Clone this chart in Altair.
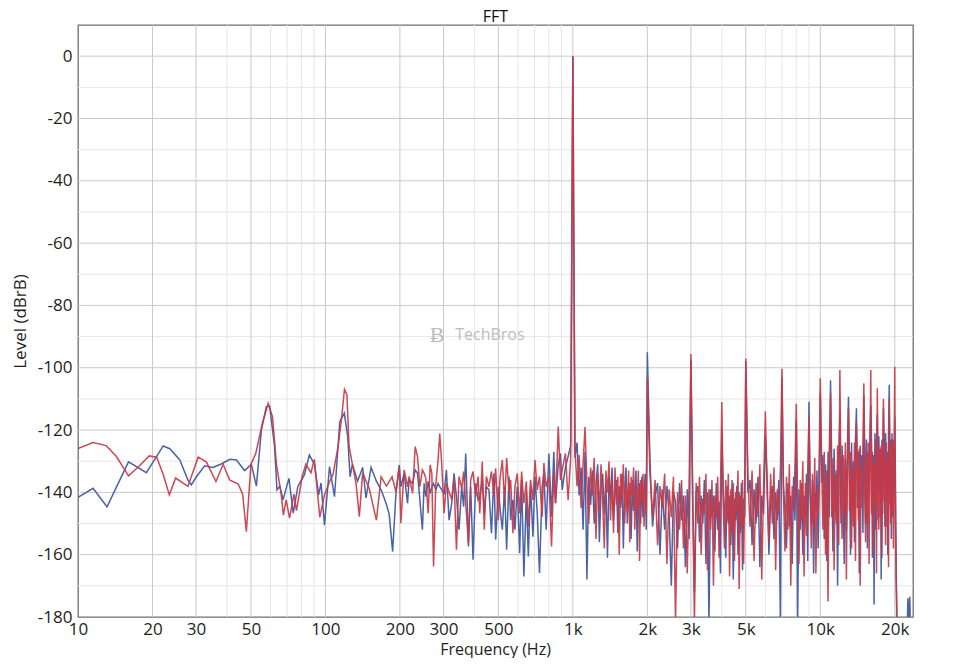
import altair as alt
import pandas as pd

# ---------------- data ----------------
# low-frequency part, blue channel
blue_lo_freq = [10, 11.5, 13.1, 16.0, 18.9, 22.1, 23.5, 25.8, 27.8, 28.7,
                30.1, 32.5, 35.1, 37.9, 41.1, 43.7, 47.1, 50.2, 52.6, 55.1,
                57.7, 59.5, 62.3, 63.7, 65.4, 67.4, 71.2, 74.1, 77.4, 82.2,
                86.1, 90.3, 93.9, 96.0, 99.1, 103.9, 108.8, 114.3, 119.2, 123.0,
                125.8, 128.5, 134.9, 141.4, 145.9, 152.9, 160.7, 168.5, 176.5, 181,
                186.9]
blue_lo_level = [-141.6, -138.7, -144.6, -130.2, -133.7, -125.1, -126, -129.6, -136, -137.6,
                 -135, -131.5, -132, -130.9, -129.4, -129.6, -133, -131, -138, -120,
                 -112.5, -112.3, -125.3, -139.2, -138, -142.4, -135.5, -146.7, -138, -134.4,
                 -128, -131, -140.8, -137, -150.5, -131.7, -141.4, -117.3, -114.6, -122,
                 -135, -131, -136.4, -132, -141.8, -132, -136.4, -139.5, -143.9, -147,
                 -159]

# low-frequency part, red channel
red_lo_freq = [10, 11.5, 13, 14.3, 16, 17.6, 19.4, 20.8, 22.1, 23.4,
               24.8, 27.8, 30.6, 33, 36.1, 38.6, 41, 44.4, 46.3, 47.9,
               50, 52.3, 55.6, 58.7, 61.1, 63.4, 66.3, 67.6, 69.4, 71.6,
               74.6, 76.4, 80.5, 83.3, 87.4, 90.2, 94.9, 99.1, 104, 107.3,
               112.6, 116.4, 119.4, 122.1, 124.6, 128, 133, 137.1, 141.4, 150.6,
               160.7, 168, 176.5, 186]
red_lo_level = [-125.9, -124, -125, -128.5, -134.7, -131.7, -128.3, -128.7, -134.3, -140.8,
                -135.4, -138.1, -128.7, -130.2, -136.5, -131, -136, -137.3, -140.6, -152.6,
                -131, -127.5, -117.9, -111.4, -115.7, -131, -140.8, -147.3, -142.4, -148.3,
                -140.6, -145.9, -135, -131, -133.7, -129.4, -148, -140.8, -136.5, -134.3,
                -125.2, -115.7, -106.9, -108.6, -125.2, -130.2, -137.2, -147.8, -133.7, -139,
                -148.9, -135, -138, -135]

# 200 Hz - 1 kHz
mid_freq = [192.8, 198.8, 201.8, 208, 214.7, 218, 225, 230.6, 235.6, 240.8,
            246.6, 250.6, 254.6, 260.2, 265, 269.2, 273.5, 279.3, 285.3, 289.8,
            295, 301.7, 308.3, 316, 324, 331, 338.5, 346.7, 355.5, 362,
            369, 378.4, 386.5, 395, 404.6, 414, 420.5, 430.5, 438.5, 447,
            458, 468.8, 480, 487.5, 500, 507, 518.8, 530, 540, 552,
            560.5, 572.8, 583.4, 596, 609.5, 620.8, 634, 648.6, 660.7, 674.5,
            690, 703, 718, 733, 751.6, 763.8, 780, 800, 820, 837.5,
            851, 873, 891.3, 905.7, 933, 957, 980]
red_mid_level = [-139.8, -131.7, -149.9, -132.8, -138.2, -134.9, -140.3, -125.3, -128.5, -138.2,
                 -132.8, -133.9, -135.5, -146.7, -131.2, -133.9, -163.8, -137.6, -129.6, -121.1,
                 -130.6, -146.7, -137.1, -139.8, -142.4, -135.5, -158.4, -134.9, -138.7, -133.3,
                 -143.5, -156.3, -136, -133.3, -141.4, -134.9, -146.7, -130.1, -152, -134.9,
                 -138.2, -133.3, -141.4, -132.3, -148.9, -136, -129.6, -143.5, -129, -139.8,
                 -136, -153.1, -138.2, -133.9, -146.7, -133.3, -143.5, -136.5, -151, -136,
                 -142.4, -129.6, -139.2, -134.9, -147.8, -130.6, -138.2, -134.9, -157.4, -133.3,
                 -143.5, -118.9, -136, -132.8, -127.5, -142.4, -129]
blue_mid_level = [-140.3, -131.2, -138.2, -133.9, -143.5, -136, -137.1, -132.8, -133.9, -142.4,
                  -152, -137.1, -141.4, -136.5, -140.3, -138.2, -137.1, -139.2, -137.1, -138.2,
                  -139.2, -140.3, -132.8, -148.9, -143.5, -133.9, -141.4, -152, -138.2, -144.6,
                  -127.5, -157.4, -138.2, -161.6, -137.1, -142.4, -141.4, -136, -146.7, -138.2,
                  -139.2, -153.1, -133.9, -155.2, -138.2, -144.6, -152, -138.2, -158.4, -134.9,
                  -148.9, -142.4, -152, -138.2, -159.5, -136, -167, -140.3, -160.6, -138.2,
                  -154.2, -134.9, -146.7, -165.9, -138.2, -133.9, -152, -127.5, -147.8, -127,
                  -143.5, -131, -127.5, -139.2, -132, -128.5, -125]

# 1 kHz - 20.5 kHz
hi_freq = [1000, 1020, 1040, 1060, 1080, 1100, 1120, 1140, 1160, 1180,
           1200, 1220, 1240, 1260, 1280, 1300, 1320, 1340, 1360, 1380,
           1400, 1420, 1440, 1460, 1480, 1500, 1520, 1540, 1560, 1580,
           1600, 1620, 1640, 1660, 1680, 1700, 1720, 1740, 1760, 1780,
           1800, 1820, 1840, 1860, 1880, 1900, 1920, 1940, 1960, 1980,
           2000, 2050, 2100, 2150, 2200, 2250, 2300, 2350, 2400, 2450,
           2500, 2550, 2600, 2650, 2700, 2750, 2800, 2850, 2900, 2950,
           3000, 3050, 3100, 3150, 3200, 3250, 3300, 3350, 3400, 3450,
           3500, 3550, 3600, 3650, 3700, 3750, 3800, 3850, 3900, 3950,
           4000, 4050, 4100, 4150, 4200, 4250, 4300, 4350, 4400, 4450,
           4500, 4550, 4600, 4650, 4700, 4750, 4800, 4850, 4900, 4950,
           5000, 5100, 5200, 5300, 5400, 5500, 5600, 5700, 5800, 5900,
           6000, 6100, 6200, 6300, 6400, 6500, 6600, 6700, 6800, 6900,
           7000, 7100, 7200, 7300, 7400, 7500, 7600, 7700, 7800, 7900,
           8000, 8100, 8200, 8300, 8400, 8500, 8600, 8700, 8800, 8900,
           9000, 9100, 9200, 9300, 9400, 9500, 9600, 9700, 9800, 9900,
           10000, 10125, 10250, 10375, 10500, 10625, 10750, 10875,
           11000, 11125, 11250, 11375, 11500, 11625, 11750, 11875,
           12000, 12125, 12250, 12375, 12500, 12625, 12750, 12875,
           13000, 13125, 13250, 13375, 13500, 13625, 13750, 13875,
           14000, 14125, 14250, 14375, 14500, 14625, 14750, 14875,
           15000, 15125, 15250, 15375, 15500, 15625, 15750, 15875,
           16000, 16125, 16250, 16375, 16500, 16625, 16750, 16875,
           17000, 17125, 17250, 17375, 17500, 17625, 17750, 17875,
           18000, 18125, 18250, 18375, 18500, 18625, 18750, 18875,
           19000, 19125, 19250, 19375, 19500, 19625, 19750, 19875,
           20000, 20125, 20250, 20375, 20500]
red_hi_level = [0, -126, -138, -128, -145, -131, -119, -137, -150, -132,
                -141, -129, -155, -134, -146, -131, -143, -158, -133, -140,
                -130, -149, -136, -153, -132, -144, -135, -160, -134, -142,
                -131, -150, -137, -146, -133, -156, -135, -141, -132, -152,
                -138, -145, -133, -162, -136, -143, -134, -151, -137, -147,
                -103, -134, -148, -136, -157, -138, -145, -134, -163, -139,
                -148, -135, -182, -140, -152, -136, -158, -141, -166, -138,
                -95.6, -140, -182, -137, -150, -135, -160, -142, -147, -134,
                -165, -139, -152, -136, -170, -141, -148, -135, -161, -140,
                -111, -143, -158, -136, -149, -134, -167, -139, -153, -137,
                -162, -140, -146, -133, -171, -141, -150, -136, -163, -139,
                -97, -135, -151, -133, -162, -137, -148, -131, -168, -138,
                -114, -140, -156, -134, -150, -132, -165, -139, -147, -133,
                -100.3, -141, -159, -135, -152, -131, -170, -138, -146, -132,
                -111.6, -143, -163, -136, -149, -130, -167, -137, -154, -133,
                -115.7, -140, -158, -134, -151, -129, -166, -139, -147, -131,
                -103.4, -130, -152, -127, -160, -133, -175, -126,
                -108, -148, -129, -165, -134, -150, -125, -157,
                -100.7, -138, -155, -128, -147, -124, -168, -131,
                -113, -146, -127, -158, -133, -151, -124, -162,
                -118, -129, -149, -126, -170, -132, -145, -125,
                -105, -141, -156, -128, -150, -124, -163, -130,
                -100.7, -147, -127, -159, -131, -144, -123, -166,
                -106.6, -135, -152, -126, -148, -125, -161, -129,
                -110, -143, -128, -157, -124, -151, -130, -164,
                -110, -127, -150, -125, -146, -123, -158, -131,
                -99.7, -150, -168, -176, -190]
blue_hi_level = [0, -129, -124, -141, -132, -152, -127, -168, -135, -144,
                 -133, -150, -138, -131, -156, -139, -134, -147, -137, -161,
                 -135, -142, -132, -149, -140, -136, -153, -138, -145, -134,
                 -158, -139, -132, -150, -141, -137, -155, -136, -146, -139,
                 -133, -159, -142, -137, -150, -135, -148, -140, -134, -152,
                 -95, -130, -151, -141, -137, -160, -139, -152, -138, -147,
                 -170, -140, -143, -158, -137, -149, -141, -164, -139, -155,
                 -97.5, -142, -172, -140, -138, -156, -141, -150, -136, -163,
                 -140, -182, -139, -148, -141, -159, -137, -152, -143, -166,
                 -120, -139, -145, -161, -138, -150, -141, -157, -136, -168,
                 -142, -149, -138, -160, -140, -153, -137, -165, -142, -148,
                 -98, -140, -136, -157, -139, -150, -135, -164, -141, -147,
                 -121.6, -136, -160, -142, -138, -155, -140, -149, -136, -182,
                 -103, -138, -146, -158, -137, -151, -141, -163, -135, -149,
                 -117, -182, -139, -152, -137, -160, -141, -148, -134, -162,
                 -110.9, -139, -150, -136, -166, -140, -146, -133, -158, -138,
                 -108, -137, -128, -155, -131, -162, -127, -148,
                 -104, -131, -159, -126, -146, -133, -170, -128,
                 -115, -150, -125, -141, -163, -129, -152, -126,
                 -109.3, -133, -160, -124, -147, -130, -156, -123,
                 -113, -145, -127, -166, -125, -142, -128, -153,
                 -108.8, -126, -150, -123, -158, -127, -140, -122,
                 -112, -125, -161, -128, -176, -121, -152, -124,
                 -115, -149, -122, -140, -126, -168, -123, -147,
                 -113, -124, -151, -121, -143, -127, -160, -122,
                 -105.5, -144, -123, -155, -121, -148, -125, -139,
                 -115.7, -135, -160, -182, -190]

# blue blip above 20 kHz
blue_tail_freq = [22400, 22600, 22800, 23000, 23200]
blue_tail_level = [-190, -174, -183, -173.5, -190]

# axes / grid
tick_x = [10, 20, 30, 50, 100, 200, 300, 500, 1000, 2000, 3000, 5000, 10000, 20000]
tick_y = [0, -20, -40, -60, -80, -100, -120, -140, -160, -180]
grid_major_x = [20, 30, 50, 100, 200, 300, 500, 1000, 2000, 3000, 5000, 10000, 20000]
grid_minor_x = [40, 60, 70, 80, 90, 400, 600, 700, 800, 900,
                4000, 6000, 7000, 8000, 9000]
grid_major_y = [0, -20, -40, -60, -80, -100, -120, -140, -160]
grid_minor_y = [-10, -30, -50, -70, -90, -110, -130, -150, -170]

watermark_text = ["Ƀ", "TechBros"]
watermark_freq = [283, 462]
watermark_level = [-89.5, -89.5]
watermark_size = [22, 16]

# ---------------- build tables ----------------
def table(freqs, levels):
    return pd.DataFrame({"freq": list(freqs), "level": list(levels)})

blue_df = pd.concat([table(blue_lo_freq, blue_lo_level),
                     table(mid_freq, blue_mid_level),
                     table(hi_freq, blue_hi_level),
                     table(blue_tail_freq, blue_tail_level)], ignore_index=True)
red_df = pd.concat([table(red_lo_freq, red_lo_level),
                    table(mid_freq, red_mid_level),
                    table(hi_freq, red_hi_level)], ignore_index=True)

FONT = "Open Sans"
x_scale = alt.Scale(type="log", domain=[10, 23700], nice=False)
y_scale = alt.Scale(domain=[-180, 10], nice=False)

x_axis = alt.Axis(values=tick_x,
                  labelExpr="datum.value >= 1000 ? (datum.value / 1000) + 'k' : '' + datum.value",
                  grid=False, ticks=False, domain=False, labelFlush=False, labelOverlap=False,
                  labelFont=FONT, labelFontSize=17, labelColor="#1e1e1e", labelPadding=4,
                  title="Frequency (Hz)", titleFont=FONT, titleFontSize=16, titleFontWeight="normal",
                  titleColor="#1e1e1e", titleX=417, titleY=37, titleBaseline="alphabetic",
                  titleAlign="center")
y_axis = alt.Axis(values=tick_y, labelExpr="'' + datum.value",
                  grid=False, ticks=False, domain=False,
                  labelFont=FONT, labelFontSize=17, labelColor="#1e1e1e", labelPadding=6,
                  labelFlush=False, labelOverlap=False,
                  title="Level (dBrB)", titleFont=FONT, titleFontSize=17, titleFontWeight="normal",
                  titleColor="#1e1e1e", titleX=-58, titleY=296, titleAngle=270,
                  titleBaseline="middle", titleAlign="center")

def X(field):
    return alt.X(field, scale=x_scale, axis=x_axis)

def Y(field):
    return alt.Y(field, scale=y_scale, axis=y_axis)

def vrules(vals, color):
    return alt.Chart(pd.DataFrame({"v": vals})).mark_rule(color=color, strokeWidth=1).encode(
        x=X("v:Q"))

def hrules(vals, color):
    return alt.Chart(pd.DataFrame({"v": vals})).mark_rule(color=color, strokeWidth=1).encode(
        y=Y("v:Q"))

blue_line = alt.Chart(blue_df).mark_line(color="#4a63a8", strokeWidth=1.5, clip=True).encode(
    x=X("freq:Q"), y=Y("level:Q"))
red_line = alt.Chart(red_df).mark_line(color="#c83844", strokeWidth=1.5, clip=True, opacity=0.92).encode(
    x=X("freq:Q"), y=Y("level:Q"))

watermark = alt.Chart(pd.DataFrame({"t": watermark_text, "f": watermark_freq,
                                    "l": watermark_level, "s": watermark_size})).mark_text(
    color="#bdbdbd", font=FONT).encode(
    x=X("f:Q"), y=Y("l:Q"),
    text="t:N",
    size=alt.Size("s:Q", scale=None, legend=None))

chart = alt.layer(
    vrules(grid_minor_x, "#e6e6e6"), hrules(grid_minor_y, "#e6e6e6"),
    vrules(grid_major_x, "#c9c9c9"), hrules(grid_major_y, "#c9c9c9"),
    watermark, blue_line, red_line
).properties(
    width=835, height=592,
    title=alt.TitleParams("FFT", font=FONT, fontSize=16, fontWeight="normal",
                          color="#111111", anchor="middle", offset=0, dy=0),
    autosize=alt.AutoSizeParams(type="none"),
    padding={"left": 70, "top": 17, "right": 35, "bottom": 41},
    background="white",
).configure_view(stroke="#6f6f6f", strokeWidth=1.3)

chart.save("out.html", embed_options={"renderer": "svg", "actions": False})
